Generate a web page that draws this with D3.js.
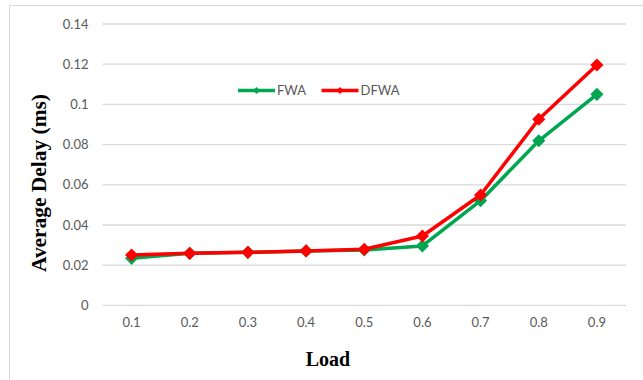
<!DOCTYPE html>
<html><head><meta charset="utf-8">
<script src="https://cdn.jsdelivr.net/npm/d3@7"></script>
<style>body{margin:0;background:#fff}svg{display:block}</style>
</head><body>
<svg id="c" width="643" height="380"></svg>
<script>
const categories = ["0.1","0.2","0.3","0.4","0.5","0.6","0.7","0.8","0.9"];
const fwa  = [0.0234,0.0259,0.0264,0.0271,0.0276,0.0296,0.0521,0.0819,0.1050];
const dfwa = [0.0251,0.0259,0.0264,0.0271,0.0279,0.0345,0.0549,0.0926,0.1196];
const yTicks = [0,0.02,0.04,0.06,0.08,0.1,0.12,0.14];
const seriesNames = ["FWA","DFWA"];
const colors = ["#00A650","#FF0000"];

const svg = d3.select("#c");
svg.append("rect").attr("x",9.5).attr("y",5.5).attr("width",700).attr("height",400)
  .attr("fill","none").attr("stroke","#d9d9d9");

const x = d3.scaleBand().domain(categories).range([102.5,626]);
const y = d3.scaleLinear().domain([0,0.14]).range([305.4,24]);

// gridlines
svg.append("g").selectAll("line").data(yTicks).join("line")
  .attr("x1",102.5).attr("x2",626).attr("y1",d=>y(d)).attr("y2",d=>y(d))
  .attr("stroke","#d9d9d9").attr("stroke-width",1.3);

// y axis labels
const yAxis = d3.axisLeft(y).tickValues(yTicks).tickSize(0).tickPadding(14)
  .tickFormat(d=>d===0?"0":String(+d.toFixed(2)));
const gy = svg.append("g").attr("transform","translate(102.5,0)").call(yAxis);
gy.select(".domain").remove();
gy.selectAll("text").attr("fill","#595959").style("font-family","Lato, 'Open Sans', sans-serif").style("font-size","13px");

// x axis labels
const xAxis = d3.axisBottom(x).tickSize(0).tickPadding(12);
const gx = svg.append("g").attr("transform","translate(0,305.4)").call(xAxis);
gx.select(".domain").remove();
gx.selectAll("text").attr("fill","#595959").style("font-family","Lato, 'Open Sans', sans-serif").style("font-size","13px");

const cx = d => x(d)+x.bandwidth()/2;
const line = d3.line().x((d,i)=>cx(categories[i])).y(d=>y(d));
const diamond = d3.symbol().type(d3.symbolDiamond2).size(110);

[fwa,dfwa].forEach((vals,si)=>{
  const g = svg.append("g");
  g.append("path").datum(vals).attr("d",line).attr("fill","none")
    .attr("stroke",colors[si]).attr("stroke-width",3.5).attr("stroke-linejoin","round");
  g.selectAll("path.m").data(vals).join("path").attr("class","m")
    .attr("d",diamond).attr("fill",colors[si])
    .attr("transform",(d,i)=>`translate(${cx(categories[i])},${y(d)})`);
});

// legend
const legX = [238,321.5];
seriesNames.forEach((n,i)=>{
  const g = svg.append("g").attr("transform",`translate(${legX[i]},90.5)`);
  g.append("line").attr("x1",0).attr("x2",37).attr("stroke",colors[i]).attr("stroke-width",3.5);
  g.append("path").attr("d",d3.symbol().type(d3.symbolDiamond2).size(30)).attr("fill",colors[i]).attr("transform","translate(18.5,0)");
  g.append("text").attr("x",39).attr("y",0).attr("dy","0.35em").text(n)
    .attr("fill","#595959").style("font-family","Lato, 'Open Sans', sans-serif").style("font-size","13px");
});

// axis titles
svg.append("text").attr("transform","translate(46,183) rotate(-90)").attr("text-anchor","middle")
  .attr("textLength",178).attr("lengthAdjust","spacingAndGlyphs")
  .text("Average Delay (ms)").style("font-family","'Liberation Serif', 'Times New Roman', serif")
  .style("font-weight","bold").style("font-size","20px").attr("fill","#000");
svg.append("text").attr("x",328).attr("y",366).attr("text-anchor","middle")
  .text("Load").style("font-family","'Liberation Serif', 'Times New Roman', serif")
  .style("font-weight","bold").style("font-size","20px").attr("fill","#000");
</script>
</body></html>
